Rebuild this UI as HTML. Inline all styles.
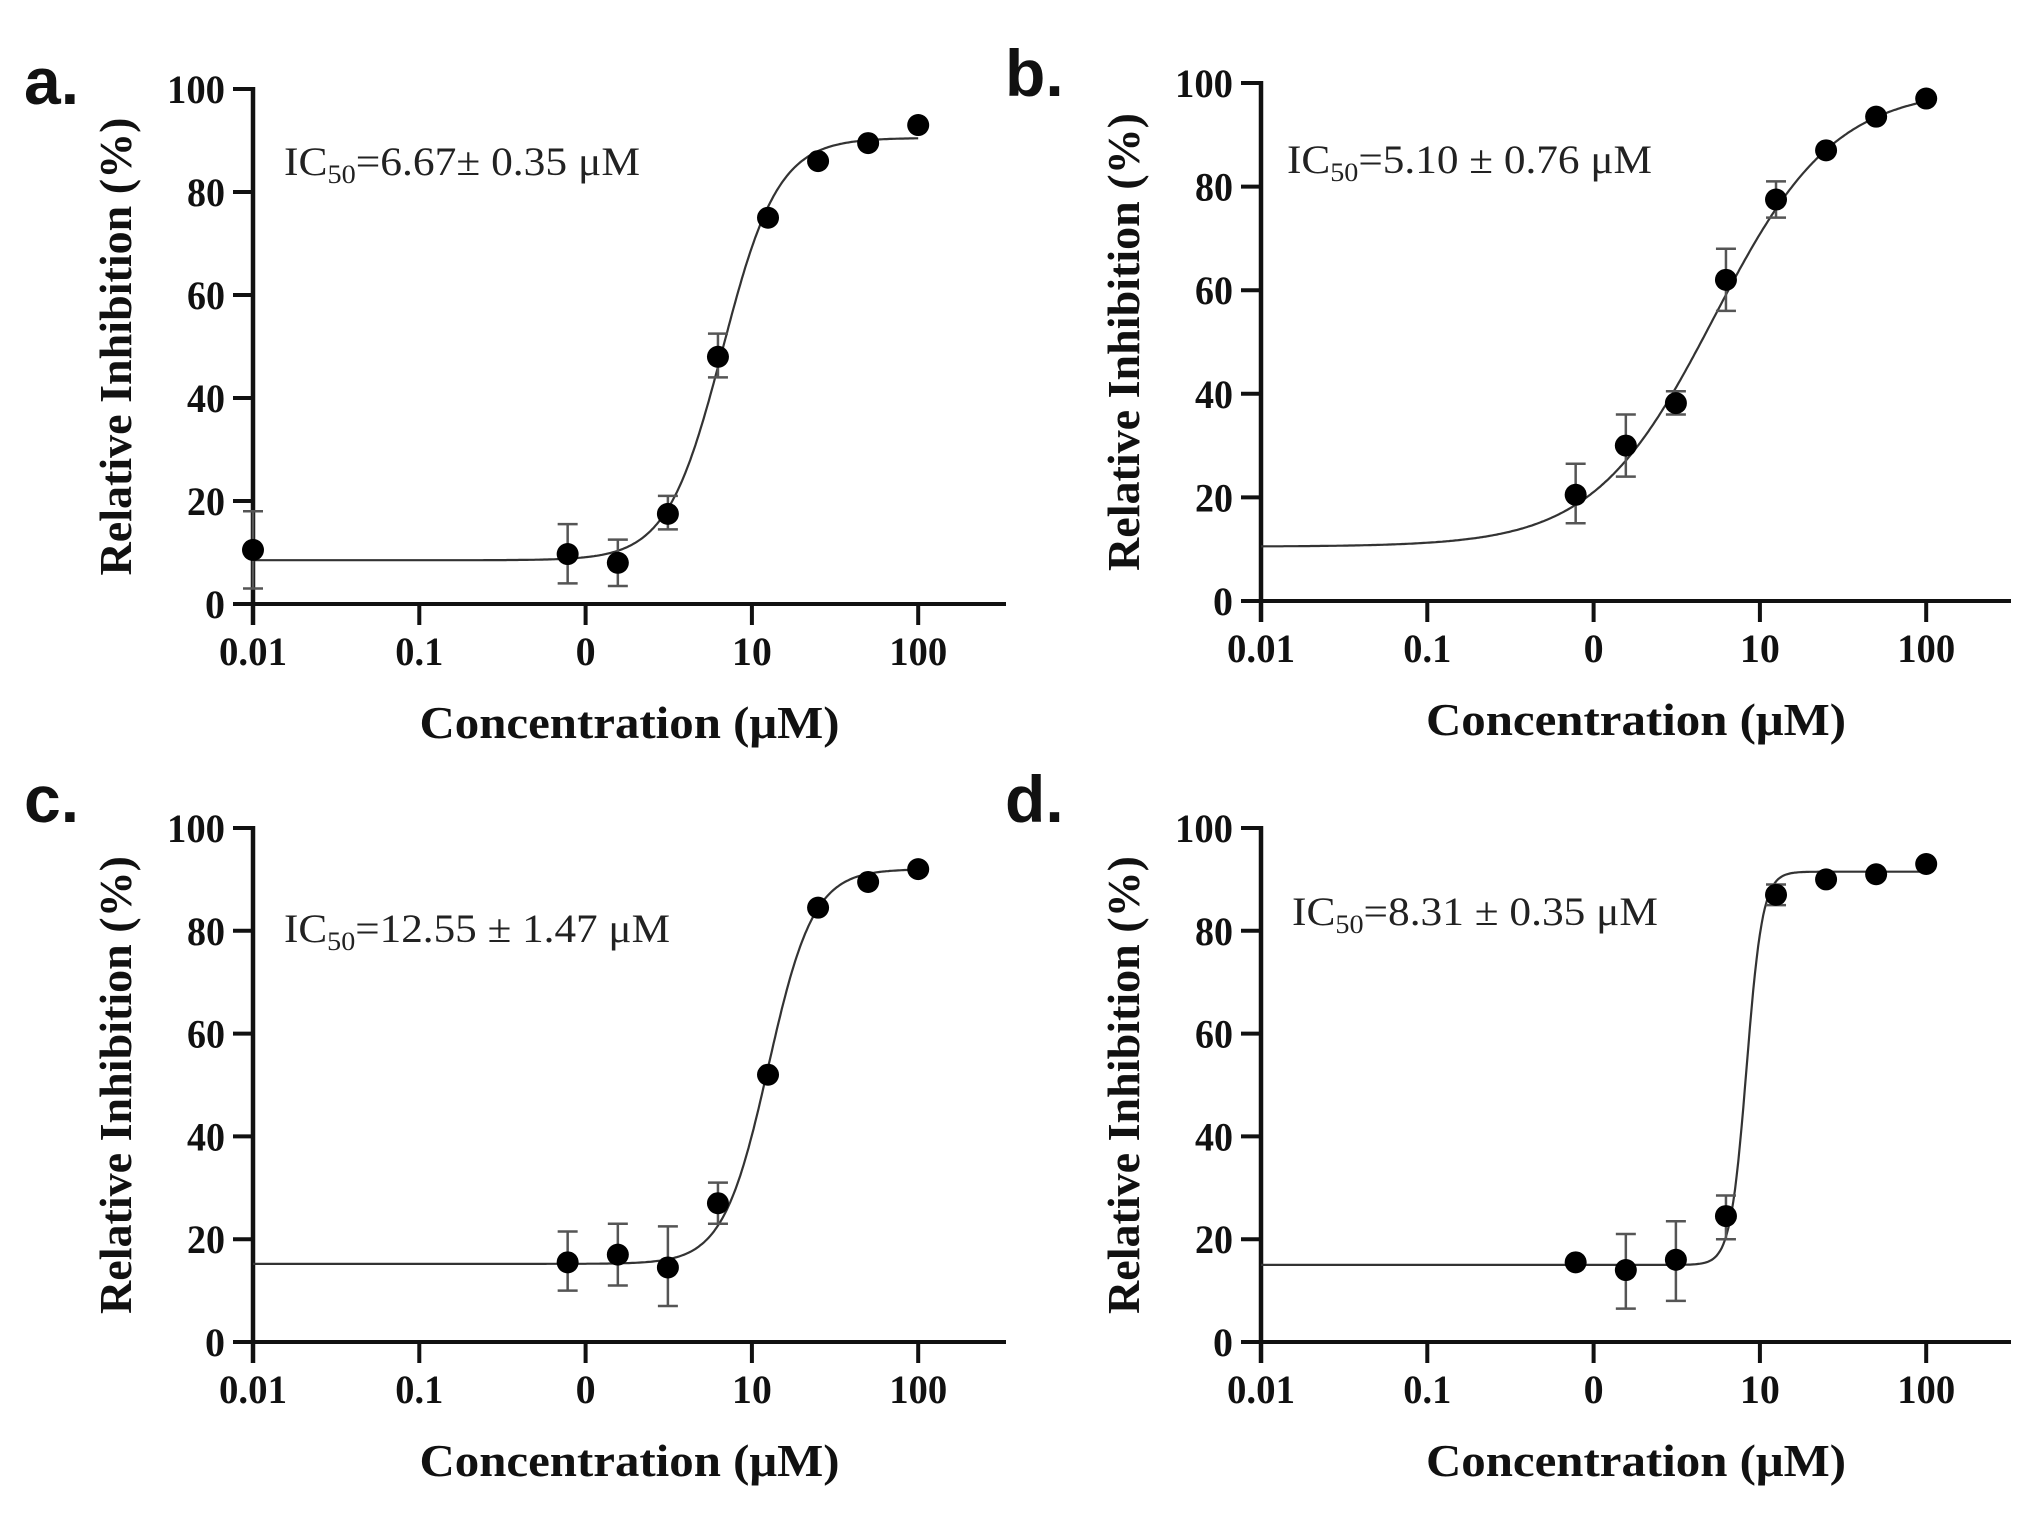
<!DOCTYPE html>
<html><head><meta charset="utf-8">
<style>
html,body{margin:0;padding:0;background:#fff;}
svg{display:block;}
.tk{font-family:"Liberation Serif",serif;font-weight:bold;font-size:40px;fill:#111;}
.tt{font-family:"Liberation Serif",serif;font-weight:bold;font-size:46px;fill:#111;}
.an{font-family:"Liberation Serif",serif;font-size:40px;fill:#222;}
.lb{font-family:"Liberation Sans",sans-serif;font-weight:bold;font-size:66px;fill:#111;}
</style></head>
<body>
<svg id="s" width="2034" height="1515" viewBox="0 0 2034 1515" xmlns="http://www.w3.org/2000/svg">
<text class="lb" x="24" y="104">a.</text>
<text class="lb" x="1005" y="96">b.</text>
<text class="lb" x="24" y="822">c.</text>
<text class="lb" x="1005" y="822">d.</text>
<text class="an" x="284" y="175" textLength="356" lengthAdjust="spacingAndGlyphs">IC<tspan font-size="26" dy="8">50</tspan><tspan dy="-8">=6.67± 0.35 μM</tspan></text>
<text class="an" x="1287" y="173" textLength="365" lengthAdjust="spacingAndGlyphs">IC<tspan font-size="26" dy="8">50</tspan><tspan dy="-8">=5.10 ± 0.76 μM</tspan></text>
<text class="an" x="284" y="942" textLength="386" lengthAdjust="spacingAndGlyphs">IC<tspan font-size="26" dy="8">50</tspan><tspan dy="-8">=12.55 ± 1.47 μM</tspan></text>
<text class="an" x="1292" y="925" textLength="366" lengthAdjust="spacingAndGlyphs">IC<tspan font-size="26" dy="8">50</tspan><tspan dy="-8">=8.31 ± 0.35 μM</tspan></text>
</svg>
<script>
var NS="http://www.w3.org/2000/svg",S=document.getElementById("s");
function el(t,a,txt){var e=document.createElementNS(NS,t);for(var k in a)e.setAttribute(k,a[k]);if(txt!=null)e.textContent=txt;S.appendChild(e);return e;}
var P=[
 {x0:253,y0:604,y1:89,xr:1006,b:8.5,t:90.5,ic:6.67,h:2.6,
  pts:[[0.01,10.5,3,18],[0.78,9.7,4,15.5],[1.5625,8,3.5,12.5],[3.125,17.5,14.5,21],[6.25,48,44,52.5],[12.5,75],[25,86],[50,89.5],[100,93]]},
 {x0:1261,y0:601,y1:83,xr:2011,b:10.5,t:99,ic:5.3,h:1.2,
  pts:[[0.78,20.5,15,26.5],[1.5625,30,24,36],[3.125,38.2,36,40.5],[6.25,62,56,68],[12.5,77.5,74,81],[25,87],[50,93.5],[100,97]]},
 {x0:253,y0:1342,y1:828,xr:1006,b:15.2,t:92,ic:12.55,h:3.2,
  pts:[[0.78,15.5,10,21.5],[1.5625,17,11,23],[3.125,14.5,7,22.5],[6.25,27,23,31],[12.5,52],[25,84.5],[50,89.5],[100,92]]},
 {x0:1261,y0:1342,y1:828,xr:2011,b:15,t:91.5,ic:8.31,h:9,
  pts:[[0.78,15.5],[1.5625,14,6.5,21],[3.125,16,8,23.5],[6.25,24.5,20,28.5],[12.5,87,85,89],[25,90],[50,91],[100,93]]}
];
var D=166.3;
P.forEach(function(p){
 var H=(p.y0-p.y1)/100;
 function X(c){return p.x0+(Math.log10(c)+2)*D;}
 function Y(v){return p.y0-v*H;}
 el("line",{x1:p.x0,y1:p.y1-2,x2:p.x0,y2:p.y0+21,stroke:"#111","stroke-width":4.5});
 el("line",{x1:p.x0-20,y1:p.y0,x2:p.xr,y2:p.y0,stroke:"#111","stroke-width":4});
 for(var i=0;i<=5;i++){var v=i*20,y=Y(v);
  el("line",{x1:p.x0-20,y1:y,x2:p.x0,y2:y,stroke:"#111","stroke-width":4});
  var tx=el("text",{"class":"tk",x:p.x0-28,y:y+14,"text-anchor":"end"},String(v));
  if(v==100)tx.setAttribute("textLength","58"),tx.setAttribute("lengthAdjust","spacingAndGlyphs");
  if(v>0&&v<100)tx.setAttribute("textLength","38"),tx.setAttribute("lengthAdjust","spacingAndGlyphs");
 }
 var xl=["0.01","0.1","0","10","100"],xw=[68,48,0,40,58];
 for(var j=0;j<5;j++){var x=p.x0+j*D;
  el("line",{x1:x,y1:p.y0,x2:x,y2:p.y0+21,stroke:"#111","stroke-width":4});
  var t=el("text",{"class":"tk",x:x,y:p.y0+61,"text-anchor":"middle"},xl[j]);
  if(xw[j])t.setAttribute("textLength",xw[j]),t.setAttribute("lengthAdjust","spacingAndGlyphs");
 }
 var cx=(p.x0+p.xr)/2;
 el("text",{"class":"tt",x:cx,y:p.y0+134,"text-anchor":"middle",textLength:"420",lengthAdjust:"spacingAndGlyphs"},"Concentration (μM)");
 var cy=(p.y0+p.y1)/2;
 el("text",{"class":"tt",x:0,y:0,"text-anchor":"middle",transform:"translate("+(p.x0-122)+","+cy+") rotate(-90)",textLength:"458",lengthAdjust:"spacingAndGlyphs"},"Relative Inhibition (%)");
 var d="";
 for(var k=0;k<=400;k++){var lc=-2+k*4/400,c=Math.pow(10,lc);
  var v=p.b+(p.t-p.b)/(1+Math.pow(p.ic/c,p.h));
  d+=(k?"L":"M")+X(c).toFixed(1)+","+Y(v).toFixed(1);}
 el("path",{d:d,fill:"none",stroke:"#333","stroke-width":2.2});
 p.pts.forEach(function(q){var x=X(q[0]);
  if(q.length>2){
   el("line",{x1:x,y1:Y(q[2]),x2:x,y2:Y(q[3]),stroke:"#555","stroke-width":2.5});
   el("line",{x1:x-10,y1:Y(q[2]),x2:x+10,y2:Y(q[2]),stroke:"#555","stroke-width":2.5});
   el("line",{x1:x-10,y1:Y(q[3]),x2:x+10,y2:Y(q[3]),stroke:"#555","stroke-width":2.5});
  }
  el("circle",{cx:x,cy:Y(q[1]),r:11,fill:"#000"});
 });
});
</script>
</body></html>
